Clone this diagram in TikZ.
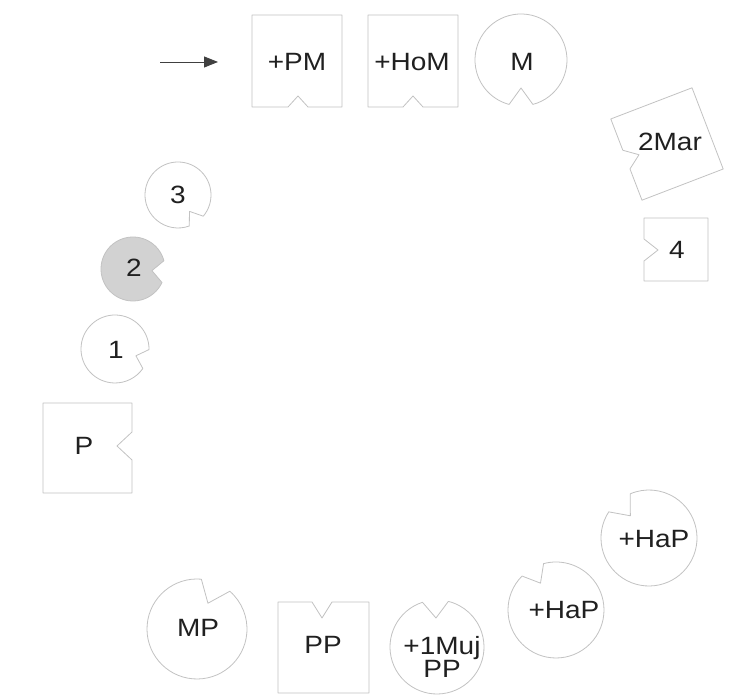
\documentclass[tikz,border=0pt]{standalone}
\usepackage{fontspec}
\setmainfont[FakeStretch=1.12]{Liberation Sans}
\usetikzlibrary{arrows.meta}
\definecolor{shapegray}{HTML}{C2C2C2}
\definecolor{textgray}{HTML}{202020}
\definecolor{fillgray}{HTML}{D2D2D2}
\definecolor{arrowgray}{HTML}{404040}
% #1 name, #2 cx, #3 cy (image, y down), #4 radius, #5 notch angle, #6 half angle, #7 depth, #8 fill
\newcommand\pacman[8]{%
  \pgfmathsetmacro\pcx{#2}\pgfmathsetmacro\pcy{698-#3}%
  \pgfmathsetmacro\psa{#5+#6}\pgfmathsetmacro\pea{#5+360-#6}%
  \pgfmathsetmacro\psx{\pcx+#4*cos(\psa)}\pgfmathsetmacro\psy{\pcy+#4*sin(\psa)}%
  \pgfmathsetmacro\ptx{\pcx+(#4-#7)*cos(#5)}\pgfmathsetmacro\pty{\pcy+(#4-#7)*sin(#5)}%
  \coordinate (#1) at (\pcx,\pcy);
  \draw[shp,fill=#8] (\psx,\psy) arc[start angle=\psa, end angle=\pea, radius=#4] -- (\ptx,\pty) -- cycle;}
\begin{document}
\begin{tikzpicture}[x=1pt,y=1pt,
  shp/.style={draw=shapegray, line width=0.8pt, line join=round},
  lbl/.style={font=\fontsize{25}{21}\selectfont, text=textgray, inner sep=0pt, align=center}]
\useasboundingbox (0,0) rectangle (748,698);

% arrow
\coordinate (a0) at (160,698-62);
\coordinate (a1) at (218,698-62);
\draw[arrowgray, line width=0.9pt, -{Triangle[length=14pt,width=11pt]}] (a0) -- (a1);

% notched squares
\draw[shp] (252,698-15) -- (342,698-15) -- (342,698-107) -- (308,698-107) -- (298,698-96) -- (288,698-107) -- (252,698-107) -- cycle;
\draw[shp] (368,698-15) -- (458,698-15) -- (458,698-107) -- (423,698-107) -- (413,698-96) -- (403,698-107) -- (368,698-107) -- cycle;
\draw[shp] (644,698-218) -- (708,698-218) -- (708,698-281) -- (644,698-281) -- (644,698-261) -- (658,698-250) -- (644,698-239) -- cycle;
\draw[shp] (43,698-403) -- (132,698-403) -- (132,698-432) -- (117,698-446) -- (132,698-460) -- (132,698-493) -- (43,698-493) -- cycle;
\draw[shp] (278,698-602) -- (312,698-602) -- (322,698-618) -- (332,698-602) -- (369,698-602) -- (369,698-693) -- (278,698-693) -- cycle;
\begin{scope}[shift={(667,698-144)}, rotate=21]
\draw[shp] (-43.5,43.5) -- (43.5,43.5) -- (43.5,-43.5) -- (-43.5,-43.5) -- (-43.5,-10) -- (-30,0) -- (-43.5,10) -- cycle;
\end{scope}

% notched circles
\pacman{cM}{521}{60}{46}{-90}{15}{18}{white}
\pacman{c3}{178}{195}{33}{-55}{15}{13}{white}
\pacman{c2}{133}{269}{32}{-5}{20}{13}{fillgray}
\pacman{c1}{115}{349}{34}{-18}{17}{12}{white}
\pacman{cMP}{197}{629}{50}{67}{18}{22}{white}
\pacman{cMuj}{437}{647}{47}{92}{16}{18}{white}
\pacman{cHa}{649}{538}{48}{130}{17}{19}{white}
\pacman{cHb}{556}{610}{48}{120}{15}{17}{white}

% labels
\node[lbl] (tPM) at (297,698-62) {+PM};
\node[lbl] (tHoM) at (412,698-62) {+HoM};
\node[lbl] (tM) at (522,698-62) {M};
\node[lbl] (tMar) at (670,698-142) {2Mar};
\node[lbl] (t4) at (677,698-250) {4};
\node[lbl] (t3) at (178,698-195) {3};
\node[lbl] (t2) at (134,698-268) {2};
\node[lbl] (t1) at (116,698-350) {1};
\node[lbl] (tP) at (84,698-446) {P};
\node[lbl] (tMP) at (198,698-628) {MP};
\node[lbl] (tPP) at (323,698-645) {PP};
\node[lbl] (tMuj) at (442,698-657) {+1Muj\\PP};
\node[lbl] (tHa) at (654,698-539) {+HaP};
\node[lbl] (tHb) at (564,698-610) {+HaP};
\end{tikzpicture}
\end{document}
